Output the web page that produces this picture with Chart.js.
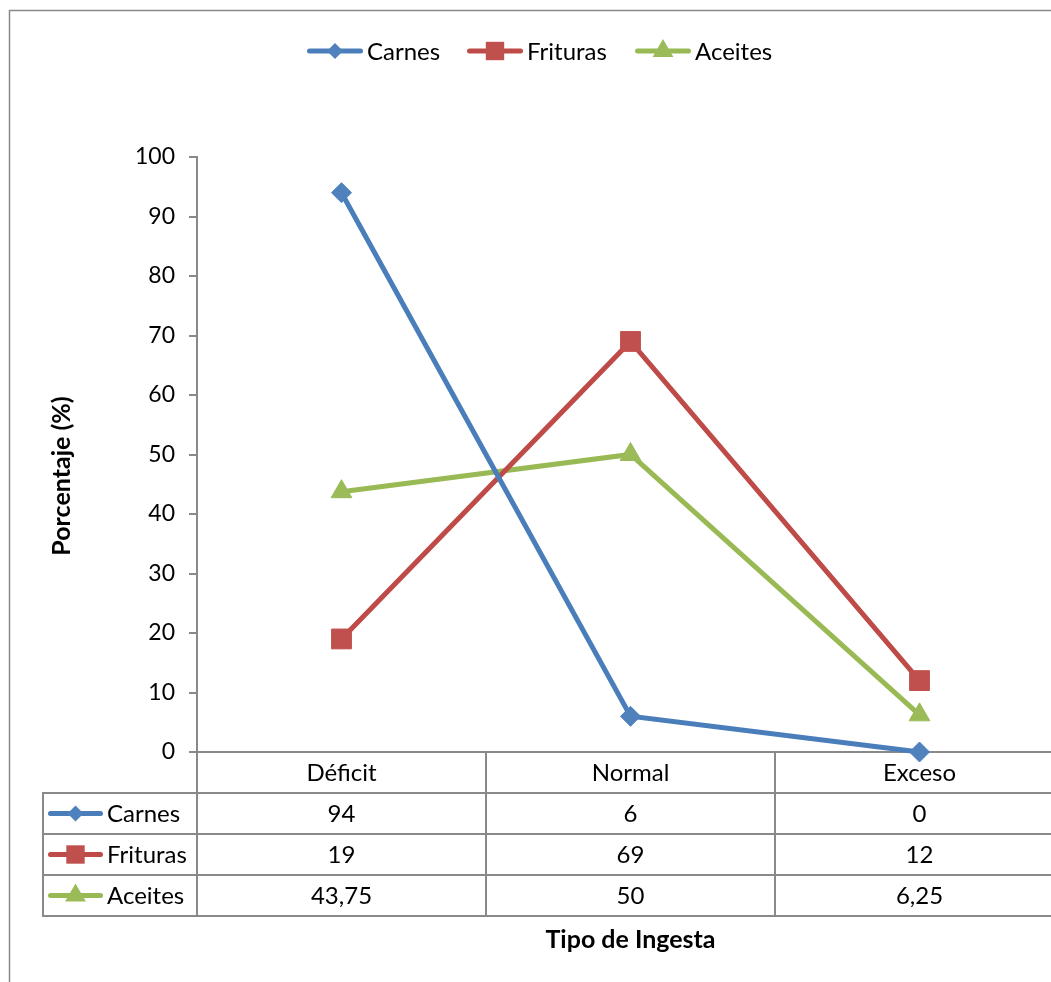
<!DOCTYPE html>
<html lang="es">
<head>
<meta charset="utf-8">
<title>Tipo de Ingesta</title>
<script src="https://cdn.jsdelivr.net/npm/chart.js"></script>
<style>
  html, body { margin: 0; padding: 0; background: #ffffff; overflow: hidden; }
  #wrap { position: absolute; left: 0; top: 0; }
</style>
</head>
<body>
<div id="wrap"><canvas id="c" width="1064" height="982"></canvas></div>
<script>
// Categorías del eje X
const categorias = ['Déficit', 'Normal', 'Exceso'];

// Porcentajes por tipo de alimento
const carnes = [94, 6, 0];
const frituras = [19, 69, 12];
const aceites = [43.75, 50, 6.25];

// Etiquetas de la tabla de datos (formato decimal con coma)
const etiquetasCarnes = ['94', '6', '0'];
const etiquetasFrituras = ['19', '69', '12'];
const etiquetasAceites = ['43,75', '50', '6,25'];

const FONT = 'Lato, "Liberation Sans", sans-serif';
const GRIS = '#898989';

const series = [
  { label: 'Carnes', data: carnes, textos: etiquetasCarnes, line: '#4A7EBB', fill: '#4F81BD', style: 'rectRot', radius: 10, keyRadius: 8 },
  { label: 'Frituras', data: frituras, textos: etiquetasFrituras, line: '#BE4B48', fill: '#C0504D', style: 'rect', radius: 14, keyRadius: 13 },
  { label: 'Aceites', data: aceites, textos: etiquetasAceites, line: '#98B954', fill: '#9BBB59', style: 'triangle', radius: 12, keyRadius: 12 }
];

// Marcador (rombo, cuadrado, triángulo) como en la serie
function marcador(ctx, s, r, x, y) {
  ctx.save();
  ctx.fillStyle = s.fill;
  ctx.beginPath();
  if (s.style === 'rectRot') {
    ctx.moveTo(x, y - r); ctx.lineTo(x + r, y); ctx.lineTo(x, y + r); ctx.lineTo(x - r, y);
  } else if (s.style === 'rect') {
    const h = r * Math.SQRT1_2;
    ctx.rect(x - h, y - h, 2 * h, 2 * h);
  } else {
    const a = Math.PI * 2 / 3;
    ctx.moveTo(x, y - r);
    ctx.lineTo(x + Math.sin(a) * r, y - Math.cos(a) * r);
    ctx.lineTo(x + Math.sin(2 * a) * r, y - Math.cos(2 * a) * r);
  }
  ctx.closePath();
  ctx.fill();
  ctx.restore();
}

// Clave de leyenda: trazo con marcador centrado
function clave(ctx, s, x0, x1, y) {
  ctx.save();
  ctx.strokeStyle = s.line;
  ctx.lineWidth = 5;
  ctx.lineCap = 'round';
  ctx.beginPath();
  ctx.moveTo(x0 + 2.5, y); ctx.lineTo(x1 - 2.5, y);
  ctx.stroke();
  ctx.restore();
  marcador(ctx, s, s.keyRadius, (x0 + x1) / 2, y);
}

// Posición de cada entrada de la leyenda superior
const leyendaX = [307, 467, 635];

const decoracion = {
  id: 'decoracion',
  beforeDraw(chart) {
    const ctx = chart.ctx;
    // Marco exterior del gráfico
    ctx.save();
    ctx.strokeStyle = GRIS;
    ctx.lineWidth = 1.5;
    ctx.strokeRect(9.5, 10.5, 1200, 1200);
    ctx.restore();

    // Leyenda superior
    ctx.save();
    ctx.font = '24px ' + FONT;
    ctx.textBaseline = 'middle';
    const y = 51;
    series.forEach((s, i) => {
      const x = leyendaX[i];
      clave(ctx, s, x, x + 56, y);
      ctx.fillStyle = '#000';
      ctx.textAlign = 'left';
      ctx.fillText(s.label, x + 60, y + 1);
    });
    ctx.restore();
  },
  afterDraw(chart) {
    const ctx = chart.ctx;
    const xs = chart.scales.x;
    const area = chart.chartArea;
    const paso = xs.getPixelForValue(1) - xs.getPixelForValue(0);
    const fila = 41;
    const y0 = area.bottom;
    const izq = 43;
    const nFilas = series.length + 1;
    const yFin = y0 + fila * nFilas;

    ctx.save();
    ctx.strokeStyle = GRIS;
    ctx.lineWidth = 2;
    ctx.beginPath();
    // Líneas horizontales de la tabla
    for (let r = 1; r <= nFilas; r++) {
      const y = y0 + fila * r;
      ctx.moveTo(izq, y); ctx.lineTo(area.right, y);
    }
    // Líneas verticales
    ctx.moveTo(izq, y0 + fila - 1); ctx.lineTo(izq, yFin + 1);
    for (let i = 0; i <= categorias.length; i++) {
      const x = xs.getPixelForValue(0) - paso / 2 + paso * i;
      ctx.moveTo(x, y0); ctx.lineTo(x, yFin + 1);
    }
    ctx.stroke();

    // Texto de la tabla
    ctx.font = '24px ' + FONT;
    ctx.fillStyle = '#000';
    ctx.textAlign = 'center';
    ctx.textBaseline = 'middle';
    categorias.forEach((c, i) => {
      ctx.fillText(c, xs.getPixelForValue(i), y0 + fila / 2 + 1);
    });
    series.forEach((s, r) => {
      const yc = y0 + fila * (r + 1) + fila / 2 + 1;
      s.textos.forEach((t, i) => {
        ctx.textAlign = 'center';
        ctx.fillText(t, xs.getPixelForValue(i), yc);
      });
      clave(ctx, s, 48, 103, yc - 1);
      ctx.fillStyle = '#000';
      ctx.textAlign = 'left';
      ctx.fillText(s.label, 107, yc);
    });

    // Títulos de los ejes
    ctx.font = 'bold 25px ' + FONT;
    ctx.textAlign = 'center';
    ctx.fillText('Tipo de Ingesta', xs.getPixelForValue(1), 940);
    ctx.save();
    ctx.translate(62, 476);
    ctx.rotate(-Math.PI / 2);
    ctx.fillText('Porcentaje (%)', 0, 0);
    ctx.restore();
    ctx.restore();
  }
};

new Chart(document.getElementById('c'), {
  type: 'line',
  data: {
    labels: categorias,
    datasets: series.map(s => ({
      label: s.label,
      data: s.data,
      borderColor: s.line,
      borderWidth: 5,
      backgroundColor: s.fill,
      pointBackgroundColor: s.fill,
      pointBorderColor: s.fill,
      pointBorderWidth: 1,
      pointStyle: s.style,
      pointRadius: s.radius,
      pointHoverRadius: s.radius,
      tension: 0,
      clip: false
    }))
  },
  options: {
    responsive: false,
    animation: false,
    events: [],
    layout: { autoPadding: false, padding: { top: 157, left: 0, right: 0, bottom: 0 } },
    plugins: {
      legend: { display: false },
      tooltip: { enabled: false }
    },
    scales: {
      x: {
        offset: true,
        grid: { display: false },
        border: { display: true, color: GRIS, width: 2 },
        ticks: { display: false },
        afterFit(scale) { scale.height = 230; }
      },
      y: {
        min: 0,
        max: 100,
        ticks: {
          stepSize: 10,
          padding: 14,
          color: '#000',
          font: { family: FONT, size: 23 }
        },
        grid: { drawOnChartArea: false, drawTicks: true, tickLength: 8, color: GRIS, lineWidth: 2 },
        border: { display: true, color: GRIS, width: 2 },
        afterFit(scale) { scale.width = 197; }
      }
    }
  },
  plugins: [decoracion]
});
</script>
</body>
</html>
